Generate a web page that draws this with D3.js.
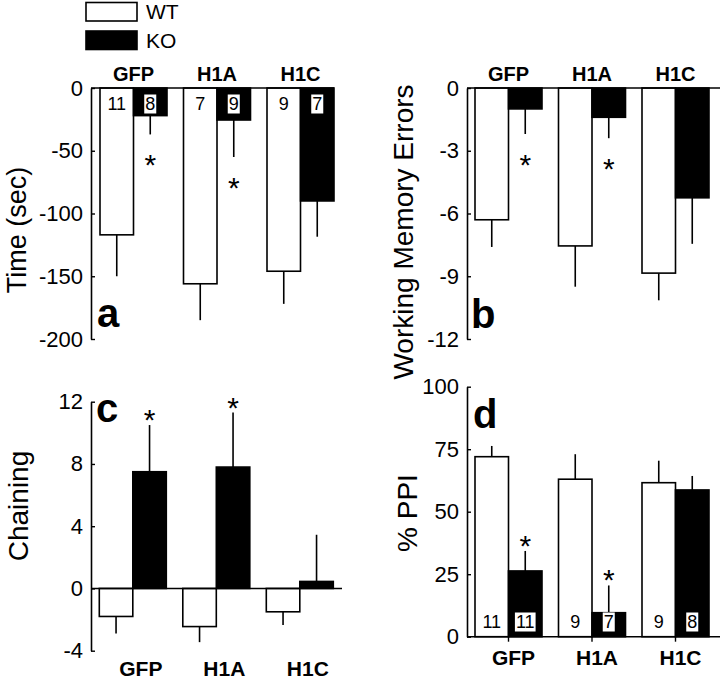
<!DOCTYPE html>
<html>
<head>
<meta charset="utf-8">
<script src="https://cdn.jsdelivr.net/npm/d3@7"></script>
<style>
  html, body { margin: 0; padding: 0; background: #fff; }
  svg { display: block; font-family: "Liberation Sans", Arial, sans-serif; }
</style>
</head>
<body>
<svg id="chart" width="720" height="680"></svg>
<script>
// ---------------- data ----------------
const groups = ["GFP", "H1A", "H1C"];
const genotypes = ["WT", "KO"];

// panel a: Time (sec)
const timeWT = [-117, -156, -146];
const timeKO = [-22, -25.5, -90];
const timeErrWT = [33, 29, 26];
const timeErrKO = [15, 29.5, 28.5];
const timeTicks = [0, -50, -100, -150, -200];
const timeNWT = [11, 7, 9];
const timeNKO = [8, 9, 7];
const timeSigKO = [true, true, false];

// panel b: Working Memory Errors
const wmeWT = [-6.3, -7.55, -8.85];
const wmeKO = [-1.0, -1.4, -5.25];
const wmeErrWT = [1.3, 1.95, 1.3];
const wmeErrKO = [1.2, 1.0, 2.2];
const wmeTicks = [0, -3, -6, -9, -12];
const wmeSigKO = [true, true, false];

// panel c: Chaining
const chainWT = [-1.8, -2.45, -1.5];
const chainKO = [7.5, 7.8, 0.45];
const chainErrWT = [1.1, 1.0, 0.85];
const chainErrKO = [3.0, 3.5, 3.0];
const chainTicks = [12, 8, 4, 0, -4];
const chainSigKO = [true, true, false];

// panel d: % PPI
const ppiWT = [72, 63, 61.6];
const ppiKO = [26.3, 9.6, 58.7];
const ppiErrWT = [4.3, 10, 8.8];
const ppiErrKO = [8, 10.9, 5.6];
const ppiTicks = [100, 75, 50, 25, 0];
const ppiNWT = [11, 9, 9];
const ppiNKO = [11, 7, 8];
const ppiSigKO = [true, true, false];

// ---------------- drawing ----------------
const svg = d3.select("#chart");
const FONT = "'Liberation Sans', Arial, sans-serif";

function toRows(wt, ko, ewt, eko) {
  return groups.flatMap((g, i) => [
    { group: g, geno: "WT", value: wt[i], err: ewt[i] },
    { group: g, geno: "KO", value: ko[i], err: eko[i] }
  ]);
}

function panel(cfg) {
  const g = svg.append("g");
  const x = d3.scaleBand().domain(groups).range(cfg.xRange).paddingInner(0.1976).paddingOuter(0);
  const xi = d3.scaleBand().domain(genotypes).range([0, x.bandwidth()]);
  const y = d3.scaleLinear().domain(cfg.yDomain).range(cfg.yRange);
  const rows = toRows(cfg.wt, cfg.ko, cfg.ewt, cfg.eko);
  const bx = d => x(d.group) + xi(d.geno);
  const cx = d => bx(d) + xi.bandwidth() / 2;
  const endVal = d => d.value + Math.sign(d.value) * d.err;

  // error bars (behind bars)
  g.selectAll("line.err").data(rows).join("line")
    .attr("x1", cx).attr("x2", cx)
    .attr("y1", d => y(d.value)).attr("y2", d => y(endVal(d)))
    .attr("stroke", "#000").attr("stroke-width", 1.6);

  // bars
  g.selectAll("rect.bar").data(rows).join("rect")
    .attr("x", bx)
    .attr("width", xi.bandwidth())
    .attr("y", d => Math.min(y(0), y(d.value)))
    .attr("height", d => Math.abs(y(d.value) - y(0)))
    .attr("fill", d => d.geno === "WT" ? "#fff" : "#000")
    .attr("stroke", "#000").attr("stroke-width", 1.6);

  // zero line
  g.append("line")
    .attr("x1", cfg.axisX).attr("x2", cfg.lineEnd)
    .attr("y1", y(0)).attr("y2", y(0))
    .attr("stroke", "#000").attr("stroke-width", 1.6);

  // y axis
  const ax = g.append("g").attr("transform", `translate(${cfg.axisX},0)`)
    .call(d3.axisLeft(y).tickValues(cfg.ticks).tickSizeInner(-4).tickSizeOuter(0)
      .tickPadding(8).tickFormat(d => String(d)));
  ax.select(".domain").attr("stroke-width", 1.6);
  ax.selectAll(".tick line").attr("stroke-width", 1.4);
  ax.selectAll("text").attr("font-family", FONT).attr("font-size", 22).attr("fill", "#000");

  // group labels
  if (cfg.labelPos === "top") {
    const lt = g.append("g").attr("transform", `translate(0,${y(0)})`)
      .call(d3.axisTop(x).tickSize(0).tickPadding(7));
    lt.select(".domain").remove();
    lt.selectAll("text").attr("font-family", FONT).attr("font-size", 20)
      .attr("font-weight", "bold").attr("fill", "#000");
  } else {
    const lb = g.append("g").attr("transform", `translate(0,${cfg.labelAxisY})`)
      .call(d3.axisBottom(x).tickSize(cfg.labelTick).tickPadding(cfg.labelPad));
    lb.select(".domain").remove();
    lb.selectAll(".tick line").attr("stroke-width", 1.4);
    lb.selectAll("text").attr("font-family", FONT).attr("font-size", 21)
      .attr("font-weight", "bold").attr("fill", "#000").attr("dx", cfg.labelDx || 0);
  }

  // significance asterisks
  rows.filter(d => d.geno === "KO" && cfg.sig[groups.indexOf(d.group)]).forEach(d => {
    const ye = y(endVal(d));
    const c = d.value < 0 ? ye + 24 : ye - 12;
    g.append("text").attr("x", cx(d)).attr("y", c + 17)
      .attr("text-anchor", "middle").attr("font-family", FONT).attr("font-size", 30)
      .text("*");
  });

  // n labels
  if (cfg.nwt) {
    rows.forEach(d => {
      const i = groups.indexOf(d.group);
      const n = d.geno === "WT" ? cfg.nwt[i] : cfg.nko[i];
      const t = g.append("text").attr("x", cx(d)).attr("y", cfg.nY)
        .attr("text-anchor", "middle").attr("font-family", FONT).attr("font-size", 18)
        .attr("fill", "#000").text(n);
      if (d.geno === "KO") {
        const bb = t.node().getBBox();
        g.insert("rect", () => t.node())
          .attr("x", bb.x - 1).attr("y", bb.y + 0.5)
          .attr("width", bb.width + 2).attr("height", bb.height - 1)
          .attr("fill", "#fff");
      }
    });
  }

  // panel letter
  g.append("text").attr("x", cfg.letterX).attr("y", cfg.letterY)
    .attr("font-family", FONT).attr("font-size", 40).attr("font-weight", "bold")
    .text(cfg.letter);

  // y title
  g.append("text").attr("transform", `translate(${cfg.titleX},${cfg.titleY}) rotate(-90)`)
    .attr("text-anchor", "middle").attr("font-family", FONT).attr("font-size", cfg.titleSize || 28)
    .text(cfg.title);
}

panel({
  wt: timeWT, ko: timeKO, ewt: timeErrWT, eko: timeErrKO, ticks: timeTicks,
  nwt: timeNWT, nko: timeNKO, sig: timeSigKO, nY: 110,
  xRange: [100, 334], yDomain: [0, -200], yRange: [88, 339],
  axisX: 91, lineEnd: 334, labelPos: "top",
  letter: "a", letterX: 97, letterY: 327,
  title: "Time (sec)", titleX: 26, titleY: 230, titleSize: 27
});

panel({
  wt: wmeWT, ko: wmeKO, ewt: wmeErrWT, eko: wmeErrKO, ticks: wmeTicks,
  sig: wmeSigKO,
  xRange: [475, 709], yDomain: [0, -12], yRange: [88, 339],
  axisX: 467, lineEnd: 720, labelPos: "top",
  letter: "b", letterX: 471, letterY: 328,
  title: "Working Memory Errors", titleX: 413, titleY: 232
});

panel({
  wt: chainWT, ko: chainKO, ewt: chainErrWT, eko: chainErrKO, ticks: chainTicks,
  sig: chainSigKO,
  xRange: [99.3, 333.3], yDomain: [-4, 12], yRange: [650.7, 401.7],
  axisX: 91, lineEnd: 342, labelPos: "bottom",
  labelAxisY: 652, labelTick: 0, labelPad: 9, labelDx: 8,
  letter: "c", letterX: 96, letterY: 422,
  title: "Chaining", titleX: 28, titleY: 506
});

panel({
  wt: ppiWT, ko: ppiKO, ewt: ppiErrWT, eko: ppiErrKO, ticks: ppiTicks,
  nwt: ppiNWT, nko: ppiNKO, sig: ppiSigKO, nY: 628,
  xRange: [475, 709], yDomain: [0, 100], yRange: [636.7, 386.7],
  axisX: 467, lineEnd: 720, labelPos: "bottom",
  labelAxisY: 636.7, labelTick: 5, labelPad: 8, labelDx: 5,
  letter: "d", letterX: 473, letterY: 428,
  title: "% PPI", titleX: 417, titleY: 513
});

// legend
const legend = svg.append("g");
legend.selectAll("rect").data(genotypes).join("rect")
  .attr("x", 86).attr("y", (d, i) => i === 0 ? 2.5 : 31)
  .attr("width", 51).attr("height", 18.5)
  .attr("fill", d => d === "WT" ? "#fff" : "#000")
  .attr("stroke", "#000").attr("stroke-width", 1.6);
legend.selectAll("text").data(genotypes).join("text")
  .attr("x", 146).attr("y", (d, i) => i === 0 ? 18.5 : 47.5)
  .attr("font-family", FONT).attr("font-size", 21).text(d => d);
</script>
</body>
</html>
